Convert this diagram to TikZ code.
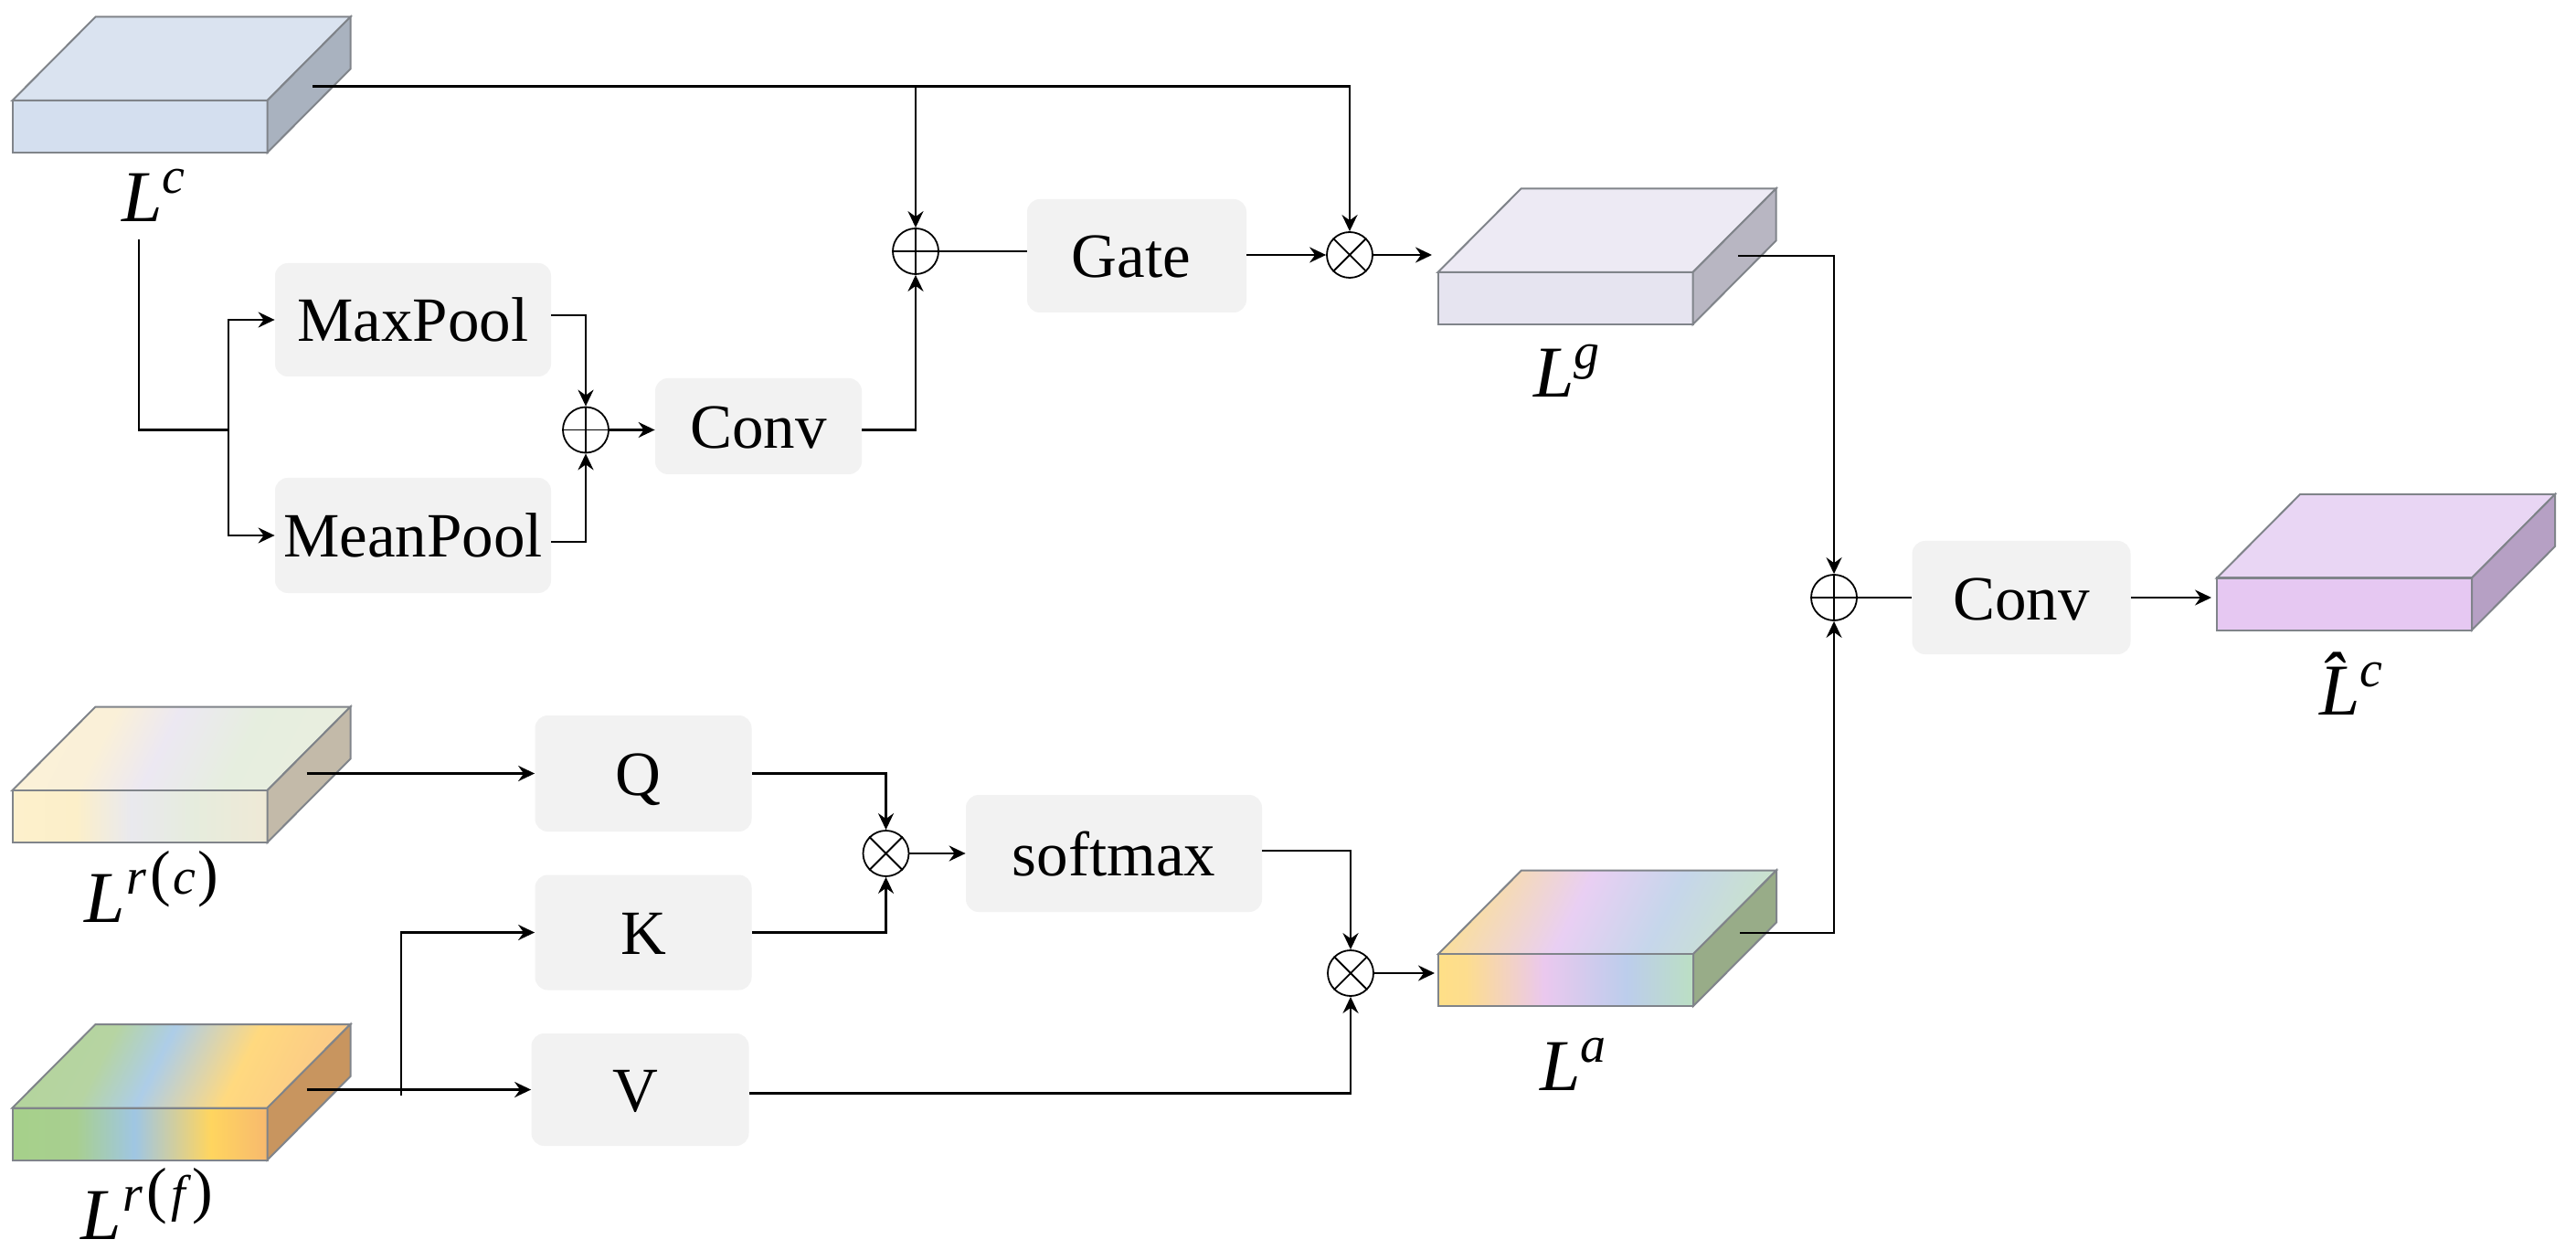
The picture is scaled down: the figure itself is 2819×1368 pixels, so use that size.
\documentclass[tikz,border=0pt]{standalone}
\usepackage{fontspec}
\setmainfont{Liberation Serif}
\usetikzlibrary{arrows.meta,calc}
\definecolor{edgecol}{HTML}{80848A}
\definecolor{boxfill}{HTML}{F2F2F2}
\definecolor{lcT}{HTML}{DAE3F0}\definecolor{lcF}{HTML}{D4DFEF}\definecolor{lcS}{HTML}{A9B2BF}
\definecolor{lgT}{HTML}{EDEAF4}\definecolor{lgF}{HTML}{E6E4F0}\definecolor{lgS}{HTML}{B8B6C2}
\definecolor{lhT}{HTML}{E9D6F4}\definecolor{lhF}{HTML}{E6C8F2}\definecolor{lhS}{HTML}{B6A0C4}
\definecolor{rcS}{HTML}{C3BAA9}\definecolor{rfS}{HTML}{C8955F}\definecolor{laS}{HTML}{98AC88}
% Lr(c)
\definecolor{ca}{HTML}{FDF0CC}\definecolor{cb}{HTML}{FCEFC9}\definecolor{cc}{HTML}{E9E9EE}\definecolor{cd}{HTML}{E6ECDD}\definecolor{ce}{HTML}{EFE9D6}
\pgfdeclarehorizontalshading{rcfront}{100bp}{color(0bp)=(ca);color(25bp)=(ca);color(37.5bp)=(cb);color(48.3bp)=(cc);color(60.8bp)=(cd);color(75bp)=(ce);color(100bp)=(ce)}
\definecolor{cta}{HTML}{FBF1D8}\definecolor{ctb}{HTML}{FAF0D8}\definecolor{ctc}{HTML}{ECE8F2}\definecolor{ctd}{HTML}{E6EEDF}\definecolor{cte}{HTML}{E9EEDF}
\pgfdeclarehorizontalshading{rctop}{100bp}{color(0bp)=(cta);color(25bp)=(cta);color(35.8bp)=(ctb);color(46.5bp)=(ctc);color(60.4bp)=(ctd);color(75bp)=(cte);color(100bp)=(cte)}
% Lr(f)
\definecolor{fa}{HTML}{A6D08A}\definecolor{fb}{HTML}{A8CF90}\definecolor{fc}{HTML}{9FC6E3}\definecolor{fd}{HTML}{FFD55F}\definecolor{fe}{HTML}{F7B96E}
\pgfdeclarehorizontalshading{rffront}{100bp}{color(0bp)=(fa);color(25bp)=(fa);color(37.5bp)=(fb);color(49bp)=(fc);color(63.9bp)=(fd);color(75bp)=(fe);color(100bp)=(fe)}
\definecolor{fta}{HTML}{B4D49D}\definecolor{ftb}{HTML}{B6D4A2}\definecolor{ftc}{HTML}{ADCDE8}\definecolor{ftd}{HTML}{FFD97F}\definecolor{fte}{HTML}{FBC987}
\pgfdeclarehorizontalshading{rftop}{100bp}{color(0bp)=(fta);color(25bp)=(fta);color(35.8bp)=(ftb);color(45.6bp)=(ftc);color(60bp)=(ftd);color(75bp)=(fte);color(100bp)=(fte)}
% La
\definecolor{aa}{HTML}{FEDF87}\definecolor{ab}{HTML}{FDDD8E}\definecolor{ac}{HTML}{EAC8EE}\definecolor{ad}{HTML}{BCCDEC}\definecolor{ae}{HTML}{BBDFC3}
\pgfdeclarehorizontalshading{lafront}{100bp}{color(0bp)=(aa);color(25bp)=(aa);color(30.4bp)=(ab);color(45.8bp)=(ac);color(61.9bp)=(ad);color(75bp)=(ae);color(100bp)=(ae)}
\definecolor{ata}{HTML}{FADF9B}\definecolor{atc}{HTML}{E9CFF3}\definecolor{atd}{HTML}{C6D6EB}\definecolor{ate}{HTML}{C9E2CC}
\pgfdeclarehorizontalshading{latop}{100bp}{color(0bp)=(ata);color(25bp)=(ata);color(44.2bp)=(atc);color(59.6bp)=(atd);color(75bp)=(ate);color(100bp)=(ate)}
% solid cube: x y top front side
\newcommand\solidcube[5]{%
  \draw[cubeedge,fill=#3] (#1,#2) -- ++(91,-91.5) -- ++(279,0) -- ++(-91,91.5) -- cycle;
  \draw[cubeedge,fill=#4] (#1,#2) rectangle ++(279,57);
  \draw[cubeedge,fill=#5] (#1+279,#2) -- ++(91,-91.5) -- ++(0,57) -- ++(-91,91.5) -- cycle;
}
% gradient cube: x y topshade frontshade side
\newcommand\gradcube[5]{%
  \begin{scope}
    \clip (#1,#2) -- ++(91,-91.5) -- ++(279,0) -- ++(-91,91.5) -- cycle;
    \pgflowlevel{\pgftransformcm{1}{0}{0.5}{1}{\pgfpointxy{#1}{#2}}}
    \fill[shading=#3] (0,1) rectangle (325,-93);
  \end{scope}
  \draw[cubeedge] (#1,#2) -- ++(91,-91.5) -- ++(279,0) -- ++(-91,91.5) -- cycle;
  \fill[shading=#4] (#1,#2) rectangle ++(279,57);
  \draw[cubeedge] (#1,#2) rectangle ++(279,57);
  \draw[cubeedge,fill=#5] (#1+279,#2) -- ++(91,-91.5) -- ++(0,57) -- ++(-91,91.5) -- cycle;
}
\newcommand\biglabel[2]{{\fontsize{40}{40}\selectfont\itshape #1\raisebox{15.5pt}{\fontsize{28}{28}\selectfont #2}}}
\newcommand\bigparen[1]{{\upshape\fontsize{34}{34}\selectfont #1}}
\tikzset{
  cubeedge/.style={draw=edgecol,line width=1pt,line join=miter},
  opbox/.style={fill=boxfill,rounded corners=7pt,inner sep=0pt,font=\fontsize{34.5}{36}\selectfont,text height=24pt,text depth=0pt,align=center},
  sumnode/.style={circle,draw=black,fill=white,line width=0.9pt,minimum size=25pt,inner sep=0pt},
  vollabel/.style={anchor=base west,inner sep=0pt},
  conn/.style={draw=black,line width=1.1pt,line join=miter},
  flow/.style={conn,-{Stealth[length=9pt,width=8.5pt,inset=3pt]}}
}
\newcommand\plusmark[1]{\draw[line width=0.9pt] (#1.north) -- (#1.south) (#1.west) -- (#1.east);}
\newcommand\timesmark[1]{\draw[line width=0.9pt] (#1.45) -- (#1.225) (#1.135) -- (#1.315);}
\begin{document}
\begin{tikzpicture}[x=0.5pt,y=-0.5pt]
\fill[white] (0,0) rectangle (2819,1368);
\useasboundingbox (0,0) rectangle (2819,1368);

% volumes
\solidcube{13.5}{110}{lcT}{lcF}{lcS}
\solidcube{1573.5}{298}{lgT}{lgF}{lgS}
\solidcube{2426}{632.5}{lhT}{lhF}{lhS}
\gradcube{13.5}{865}{rctop}{rcfront}{rcS}
\gradcube{13.5}{1212.5}{rftop}{rffront}{rfS}
\gradcube{1574}{1044}{latop}{lafront}{laS}

% volume labels
\node[vollabel] (lc) at (133,243) {\biglabel{L}{c}};
\node[vollabel] (lg) at (1678,435) {\biglabel{L}{g}};
\node[vollabel] (la) at (1685,1193) {\biglabel{L}{a}};
\node[vollabel] (lrc) at (92,1009) {\biglabel{L}{\hspace{1pt}r\hspace{2pt}\bigparen{(}\hspace{1pt}c\hspace{1pt}\bigparen{)}}};
\node[vollabel] (lrf) at (88,1356) {\biglabel{L}{\hspace{1pt}r\hspace{2pt}\bigparen{(}\hspace{2pt}f\hspace{4pt}\bigparen{)}}};
\node[vollabel] (lhat) at (2538,782) {\biglabel{\^L}{c}};

% operator boxes
\node[opbox,minimum width=151pt,minimum height=62pt] (maxpool) at (452,350) {MaxPool};
\node[opbox,minimum width=151pt,minimum height=63pt] (meanpool) at (452,586) {MeanPool};
\node[opbox,minimum width=113pt,minimum height=52.5pt] (conva) at (830,466.5) {Conv};
\node[opbox,minimum width=120pt,minimum height=62pt] (gate) at (1244,280) {\hspace*{-6pt}Gate};
\node[opbox,minimum width=118.5pt,minimum height=63.5pt] (q) at (704,846.5) {\hspace*{-6pt}Q};
\node[opbox,minimum width=118.5pt,minimum height=63pt] (k) at (704,1020.5) {K};
\node[opbox,minimum width=119pt,minimum height=61.5pt] (v) at (700.5,1192.5) {\hspace*{-5pt}V};
\node[opbox,minimum width=162pt,minimum height=64pt] (softmax) at (1219,934) {softmax};
\node[opbox,minimum width=119.5pt,minimum height=62pt] (convb) at (2212,654) {Conv};

% sum and product nodes
\node[sumnode] (pa) at (641,470.5) {}; \plusmark{pa}
\node[sumnode] (pb) at (1002,275) {}; \plusmark{pb}
\node[sumnode] (pc) at (2007,654) {}; \plusmark{pc}
\node[sumnode] (ta) at (1477,279) {}; \timesmark{ta}
\node[sumnode] (tb) at (969.5,934) {}; \timesmark{tb}
\node[sumnode] (tc) at (1478,1065) {}; \timesmark{tc}

% free ends inside volumes and junctions
\coordinate (lcout) at (342,94.5);
\coordinate (jgate) at (1002,94.5);
\coordinate (lcdown) at (152,262);
\coordinate (jpool) at (250,470.5);
\coordinate (lgout) at (1902,280);
\coordinate (laout) at (1904,1021);
\coordinate (rcout) at (335.5,846.5);
\coordinate (rfout) at (335.5,1192.5);
\coordinate (jk) at (439,1199);
\coordinate (lgin) at (1567,279);
\coordinate (lain) at (1570,1065);
\coordinate (lhatin) at (2420,654);

% top branch
\draw[flow] (lcout) -- (jgate) -- (pb.north);
\draw[flow] (jgate) -| (ta.north);
\draw[conn] (lcdown) |- (jpool);
\draw[flow] (jpool) |- (maxpool.west);
\draw[flow] (jpool) |- (meanpool.west);
\draw[flow] ([yshift=2.5pt]maxpool.east) -| (pa.north);
\draw[flow] ([yshift=-3.5pt]meanpool.east) -| (pa.south);
\draw[flow] (pa.east) -- ([yshift=-2pt]conva.west);
\draw[flow] ([yshift=-2pt]conva.east) -| (pb.south);
\draw[conn] (pb.east) -- ([yshift=2.5pt]gate.west);
\draw[flow] ([yshift=0.5pt]gate.east) -- (ta.west);
\draw[flow] (ta.east) -- (lgin);

% bottom branch
\draw[flow] (rcout) -- (q.west);
\draw[flow] (rfout) -- (v.west);
\draw[flow] (jk) |- (k.west);
\draw[flow] (q.east) -| (tb.north);
\draw[flow] (k.east) -| (tb.south);
\draw[flow] (tb.east) -- (softmax.west);
\draw[flow] ([yshift=1.5pt]softmax.east) -| (tc.north);
\draw[flow] ([yshift=-2pt]v.east) -| (tc.south);
\draw[flow] (tc.east) -- (lain);

% merge
\draw[flow] (lgout) -| (pc.north);
\draw[flow] (laout) -| (pc.south);
\draw[conn] (pc.east) -- (convb.west);
\draw[flow] (convb.east) -- (lhatin);
\end{tikzpicture}
\end{document}
